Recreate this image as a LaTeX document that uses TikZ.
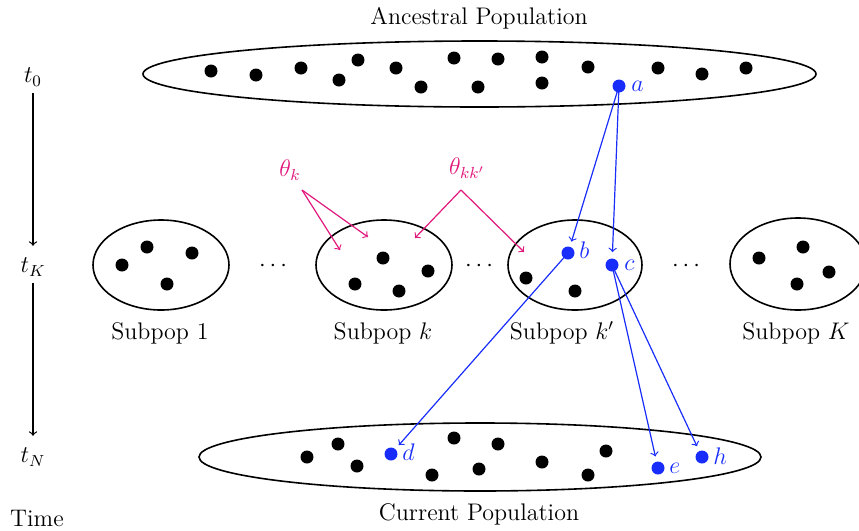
\documentclass[tikz,border=0pt]{standalone}
\usetikzlibrary{shapes.geometric}
\definecolor{dotblue}{RGB}{25,45,250}
\definecolor{thpink}{RGB}{225,25,125}
\begin{document}
\begin{tikzpicture}[x=0.5pt,y=-0.5pt,
  every node/.style={font=\fontsize{12}{14}\selectfont},
  pop/.style={draw,ellipse,line width=0.8pt,inner sep=0pt,outer sep=0pt},
  bdot/.style={circle,fill=black,inner sep=0pt,minimum size=6.5pt},
  udot/.style={circle,fill=dotblue,inner sep=0pt,minimum size=6.5pt},
  ulab/.style={text=dotblue,anchor=west,inner sep=1pt},
  blarrow/.style={draw=dotblue,line width=0.6pt,-to,shorten >=2pt},
  pkarrow/.style={draw=thpink,line width=0.6pt,-to},
  timearrow/.style={draw,line width=0.6pt,-to}
]
\useasboundingbox (0,0) rectangle (859,531);
\begin{scope}
\clip (0,0) rectangle (859,531);
% populations
\node[pop,minimum width=336.5pt,minimum height=33pt] (anc) at (479.5,74) {};
\node[pop,minimum width=68pt,minimum height=45pt] (s1) at (161,265) {};
\node[pop,minimum width=68pt,minimum height=45pt] (sk) at (384,265) {};
\node[pop,minimum width=67pt,minimum height=45pt] (skp) at (575,265) {};
\node[pop,minimum width=68pt,minimum height=46pt] (sK) at (798,264) {};
\node[pop,minimum width=281pt,minimum height=34pt] (cur) at (480,457) {};
\end{scope}
% titles
\node (ancl) at (479,18) {Ancestral Population};
\node (curl) at (479,514) {Current Population};
\node (s1l) at (160,333) {Subpop 1};
\node (skl) at (383,333) {Subpop $k$};
\node (skpl) at (562,333) {Subpop $k'$};
\node (sKl) at (796,333) {Subpop $K$};
\node (dd1) at (273,266) {$\cdots$};
\node (dd2) at (479,266) {$\cdots$};
\node (dd3) at (686,266) {$\cdots$};
% time axis
\node (t0) at (33,77) {$t_0$};
\node (tK) at (33,267) {$t_K$};
\node (tN) at (33,457) {$t_N$};
\node (time) at (37,518) {Time};
\draw[timearrow,shorten >=2.5pt] (t0) -- (tK);
\draw[timearrow,shorten >=2.5pt] (tK) -- (tN);
% ancestral dots
\foreach \i/\x/\y in {1/211/71,2/256/75,3/301/68,4/339/80,5/358/60,6/396/68,7/421/87,8/454/58,9/478/87,10/498/59,11/542/57,12/542/83,13/588/67,14/658/68,15/702/74,16/746/68}
  \node[bdot] (A\i) at (\x,\y) {};
\node[udot] (a) at (619,86) {};
\node[ulab] (al) at (629,86) {$a$};
% subpop dots
\foreach \i/\x/\y in {1/122/265,2/147/247,3/192/253,4/167/284}
  \node[bdot] (P\i) at (\x,\y) {};
\foreach \i/\x/\y in {1/383/258,2/355/284,3/399/291,4/428/271}
  \node[bdot] (Q\i) at (\x,\y) {};
\foreach \i/\x/\y in {1/526/278,2/575/291}
  \node[bdot] (R\i) at (\x,\y) {};
\foreach \i/\x/\y in {1/759/258,2/803/247,3/829/272,4/797/284}
  \node[bdot] (S\i) at (\x,\y) {};
\node[udot] (b) at (568,253) {};
\node[ulab] (bl) at (577,250) {$b$};
\node[udot] (c) at (612,265) {};
\node[ulab] (cl) at (622,265) {$c$};
% current dots
\foreach \i/\x/\y in {1/307/457,2/338/444,3/357/466,4/432/475,5/454/438,6/479/469,7/498/444,8/542/462,9/588/475,10/606/451}
  \node[bdot] (C\i) at (\x,\y) {};
\node[udot] (d) at (391,454) {};
\node[ulab] (dl) at (400,452) {$d$};
\node[udot] (e) at (658,468) {};
\node[ulab] (el) at (667,468) {$e$};
\node[udot] (h) at (702,457) {};
\node[ulab] (hl) at (711,456) {$h$};
% genealogy arrows
\draw[blarrow,shorten >=2.5pt] (a.center) -- (b);
\draw[blarrow,shorten >=3pt] (a.center) -- (c);
\draw[blarrow,shorten >=2.5pt] (b.center) -- (d);
\draw[blarrow,shorten >=2.5pt] (c.center) -- (e);
\draw[blarrow,shorten >=2.5pt] (c.center) -- (h);
% theta labels
\node[text=thpink] (thk) at (290,170) {$\theta_k$};
\node[text=thpink] (thkk) at (467,168) {$\theta_{kk'}$};
\coordinate (thks) at (302,190);
\coordinate (thkk s) at (461,190);
\coordinate (pk1) at (340,250);
\coordinate (pk2) at (368,237);
\coordinate (pk3) at (415,238);
\coordinate (pk4) at (524,252);
\draw[pkarrow] (thks) -- (pk1);
\draw[pkarrow] (thks) -- (pk2);
\draw[pkarrow] (thkk s) -- (pk3);
\draw[pkarrow] (thkk s) -- (pk4);
\end{tikzpicture}
\end{document}
